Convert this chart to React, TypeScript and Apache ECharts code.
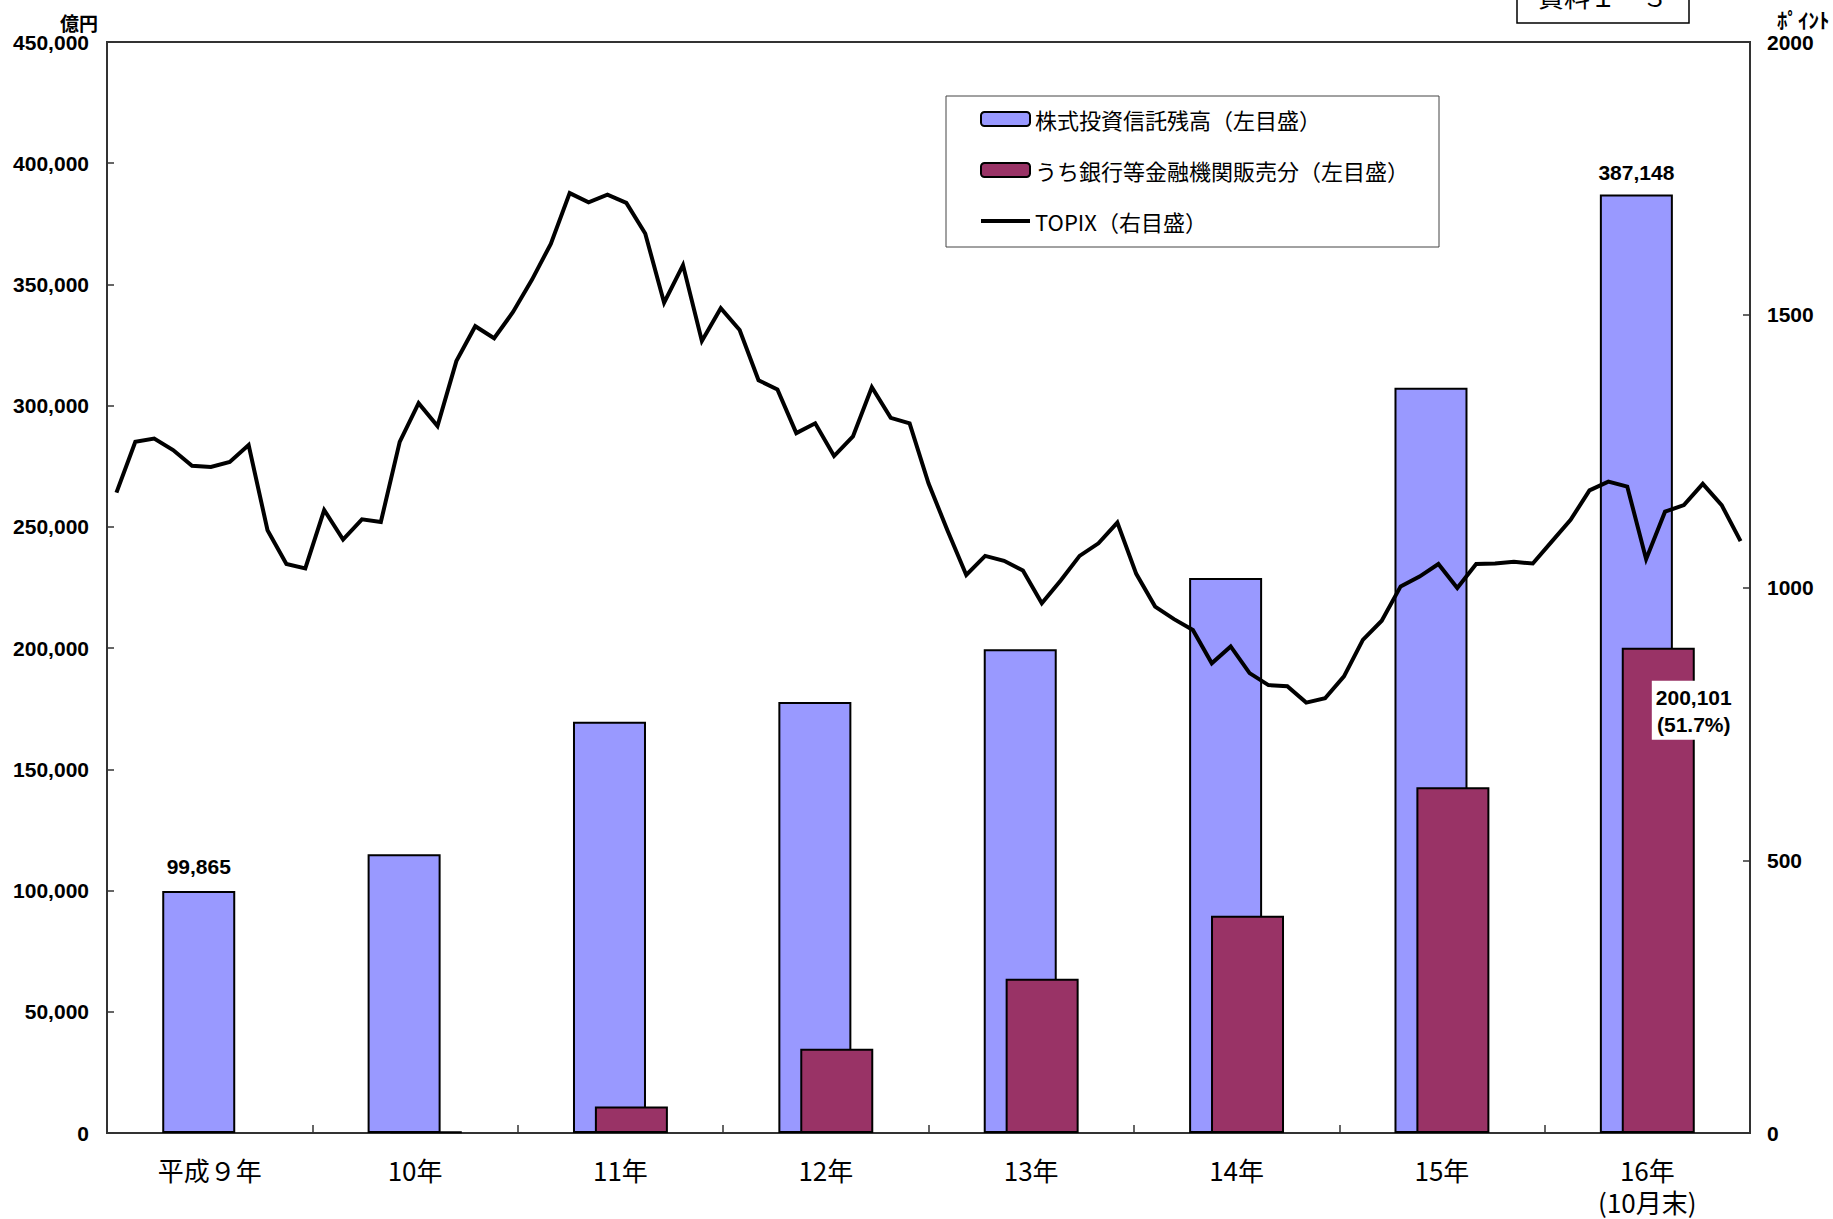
import React, { useEffect, useRef } from "react";
import * as echarts from "echarts";

const categories = ["平成９年", "10年", "11年", "12年", "13年", "14年", "15年", "16年\n(10月末)"];
const fundBalance = [99865, 115000, 169600, 177800, 199500, 228900, 307400, 387148];
const bankSales = [null, 600, 10900, 34700, 63600, 89600, 142600, 200101];
const topixValues = [
  1174, 1267, 1273, 1252, 1223, 1221, 1230, 1261, 1105, 1043,
  1035, 1142, 1088, 1125, 1120, 1267, 1338, 1296, 1415, 1479,
  1457, 1505, 1564, 1630, 1723, 1706, 1720, 1705, 1649, 1522,
  1591, 1452, 1512, 1472, 1380, 1363, 1283, 1301, 1241, 1277,
  1367, 1311, 1301, 1191, 1105, 1023, 1058, 1049, 1031, 971,
  1013, 1058, 1081, 1119, 1025, 965, 942, 922, 861, 892,
  843, 821, 819, 789, 797, 837, 904, 939, 1002, 1020,
  1043, 999, 1043, 1044, 1047, 1044, 1084, 1124, 1178, 1194,
  1185, 1052, 1139, 1151, 1190, 1151, 1085,
];
const leftTicks = { min: 0, max: 450000, interval: 50000 };
const rightTicks = { min: 0, max: 2000, interval: 500 };
const seriesNames = ["株式投資信託残高（左目盛）", "うち銀行等金融機関販売分（左目盛）", "TOPIX（右目盛）"];

const fmt = (v: number) => Math.round(v).toLocaleString("en-US");
const NUM_FONT = "'Liberation Sans', Arial, sans-serif";
const JP_FONT = "'Noto Sans CJK JP', sans-serif";

export default function App() {
  const ref = useRef<HTMLDivElement>(null);
  useEffect(() => {
    if (!ref.current) return;
    const chart = echarts.init(ref.current, null, { renderer: "svg" });
    const last = fundBalance.length - 1;
    const axisLine = { show: true, lineStyle: { color: "#333", width: 2 } };
    const option = {
      animation: false,
      backgroundColor: "#fff",
      textStyle: { fontFamily: NUM_FONT },
      grid: { left: 107, right: 83, top: 42, bottom: 86, show: true, borderColor: "#333", borderWidth: 2, backgroundColor: "transparent" },
      legend: {
        orient: "vertical",
        left: 946,
        top: 96,
        padding: [11, 30, 14, 34],
        itemGap: 27,
        itemWidth: 49,
        itemHeight: 14,
        borderColor: "#444",
        borderWidth: 1,
        backgroundColor: "#fff",
        textStyle: { fontFamily: JP_FONT, fontSize: 22, lineHeight: 24, color: "#000" },
        data: [
          { name: seriesNames[0] },
          { name: seriesNames[1] },
          { name: seriesNames[2], icon: "path://M0 0H49V4H0Z", itemStyle: { color: "#000", borderWidth: 0 } },
        ],
      },
      xAxis: [
        {
          type: "category",
          data: categories,
          boundaryGap: true,
          axisLine,
          axisTick: { show: true, inside: true, length: 8, lineStyle: { color: "#333", width: 1.5 } },
          axisLabel: { fontFamily: JP_FONT, fontSize: 26, lineHeight: 32, margin: 20, color: "#000" },
          splitLine: { show: false },
        },
        {
          type: "category",
          data: topixValues.map((_, i) => String(i)),
          boundaryGap: true,
          show: false,
          position: "bottom",
        },
      ],
      yAxis: [
        {
          type: "value",
          position: "left",
          min: leftTicks.min,
          max: leftTicks.max,
          interval: leftTicks.interval,
          name: "億円",
          nameLocation: "end",
          nameGap: 10,
          nameTextStyle: { fontFamily: JP_FONT, fontSize: 19, fontWeight: "bold", color: "#000", align: "right", verticalAlign: "bottom", padding: [0, 9, 0, 0] },
          axisLine,
          axisTick: { show: true, inside: true, length: 7, lineStyle: { color: "#333", width: 1.5 } },
          axisLabel: { fontSize: 21, fontWeight: "bold", color: "#000", margin: 18, formatter: (v: number) => fmt(v) },
          splitLine: { show: false },
        },
        {
          type: "value",
          position: "right",
          min: rightTicks.min,
          max: rightTicks.max,
          interval: rightTicks.interval,
          name: "ﾎﾟｲﾝﾄ",
          nameLocation: "end",
          nameGap: 13,
          nameTextStyle: { fontFamily: JP_FONT, fontSize: 21, fontWeight: "bold", color: "#000", align: "left", verticalAlign: "bottom", padding: [0, 0, 0, 27] },
          axisLine,
          axisTick: { show: true, inside: true, length: 7, lineStyle: { color: "#333", width: 1.5 } },
          axisLabel: { fontSize: 21, fontWeight: "bold", color: "#000", margin: 17, formatter: (v: number) => String(v) },
          splitLine: { show: false },
        },
      ],
      series: [
        {
          name: seriesNames[0],
          type: "bar",
          xAxisIndex: 0,
          yAxisIndex: 0,
          barWidth: 73,
          barGap: "-70%",
          itemStyle: { color: "#9999FF", borderColor: "#000", borderWidth: 2 },
          data: fundBalance.map((v, i) =>
            i === 0 || i === last
              ? { value: v, label: { show: true, position: "top", distance: i === 0 ? 14 : 11, fontSize: 21, fontWeight: "bold", color: "#000", formatter: () => fmt(v) } }
              : v
          ),
          z: 2,
        },
        {
          name: seriesNames[1],
          type: "bar",
          xAxisIndex: 0,
          yAxisIndex: 0,
          barWidth: 73,
          barGap: "-70%",
          itemStyle: { color: "#993366", borderColor: "#000", borderWidth: 2 },
          data: bankSales.map((v, i) =>
            i === last && v != null
              ? {
                  value: v,
                  label: {
                    show: true,
                    position: [72, 33],
                    align: "center",
                    verticalAlign: "top",
                    fontSize: 21,
                    fontWeight: "bold",
                    lineHeight: 27,
                    color: "#000",
                    backgroundColor: "#fff",
                    padding: [3, 4, 2, 4],
                    formatter: () => `${fmt(v)}\n(${((v / fundBalance[i]) * 100).toFixed(1)}%)`,
                  },
                }
              : v == null ? "-" : v
          ),
          z: 3,
        },
        {
          name: seriesNames[2],
          type: "line",
          xAxisIndex: 1,
          yAxisIndex: 1,
          data: topixValues,
          symbol: "none",
          showSymbol: false,
          lineStyle: { color: "#000", width: 4, join: "miter" },
          itemStyle: { color: "#000" },
          z: 5,
        },
      ],
      graphic: [
        {
          type: "rect",
          shape: { x: 1517, y: -12, width: 172, height: 35 },
          style: { fill: "#fff", stroke: "#000", lineWidth: 1.5 },
          z: 10,
        },
        {
          type: "text",
          x: 1603,
          y: -5,
          style: { text: "資料１－３", font: `26px ${JP_FONT}`, fill: "#000", textAlign: "center", textVerticalAlign: "middle" },
          z: 11,
        },
      ],
    };
    chart.setOption(option as any);
    return () => chart.dispose();
  }, []);
  return <div ref={ref} style={{ position: "fixed", left: 0, top: 0, width: 1833, height: 1219, background: "#fff" }} />;
}
